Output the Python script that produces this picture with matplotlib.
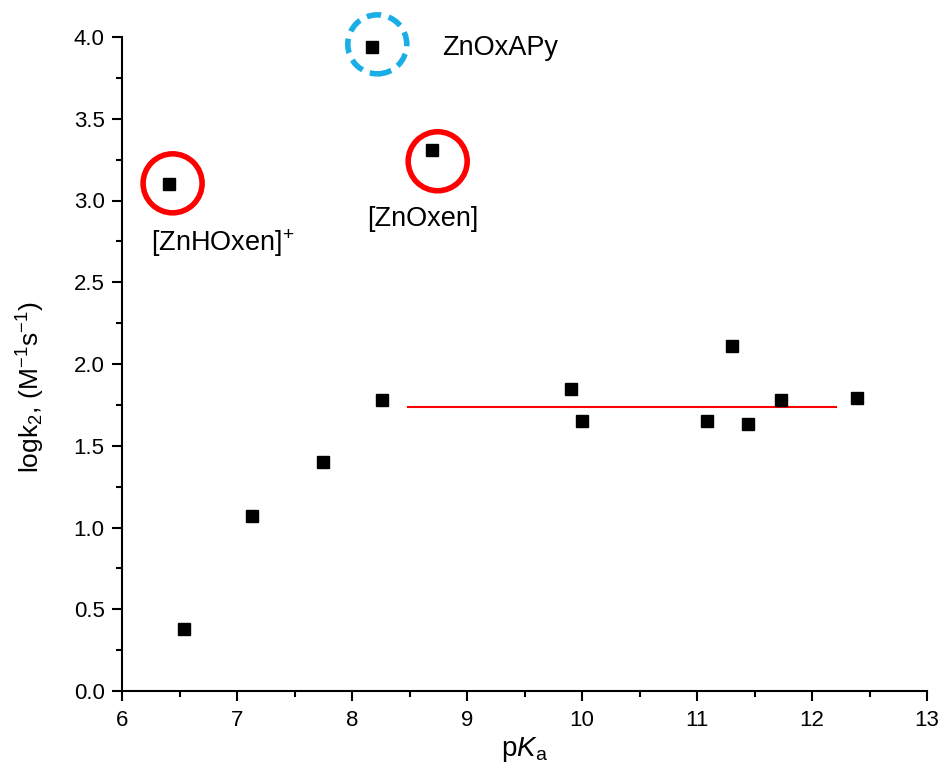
import matplotlib
matplotlib.use("Agg")
import matplotlib.pyplot as plt
from matplotlib.patches import Circle
from matplotlib.transforms import ScaledTranslation
from matplotlib.ticker import MultipleLocator, FormatStrFormatter

plt.rcParams['font.family'] = ['Liberation Sans', 'DejaVu Sans']
plt.rcParams['mathtext.fontset'] = 'custom'
plt.rcParams['mathtext.rm'] = 'Liberation Sans'
plt.rcParams['mathtext.it'] = 'Liberation Sans:italic'

# data
pka = [6.41, 6.54, 7.13, 7.75, 8.26, 8.17, 8.70, 9.90, 10.00, 11.09, 11.30, 11.44, 11.73, 12.39]
logk2 = [3.10, 0.38, 1.07, 1.40, 1.78, 3.94, 3.31, 1.85, 1.65, 1.65, 2.11, 1.63, 1.78, 1.79]

fit_x = [8.49, 12.21]
fit_y = [1.74, 1.74]

# highlighted compounds
hl_names = ['[ZnHOxen]$^{+}$', 'ZnOxAPy', '[ZnOxen]']
hl_x = [6.44, 8.22, 8.745]
hl_y = [3.105, 3.955, 3.24]
hl_colors = ['#FF0000', '#1AAEE6', '#FF0000']
hl_styles = ['solid', 'dashed', 'solid']
lab_x = [6.25, 8.78, 8.613]
lab_y = [2.69, 3.89, 2.844]
lab_ha = ['left', 'left', 'center']

fig = plt.figure(figsize=(9.41, 7.68), dpi=100)
ax = fig.add_axes([122/941, 1 - 691/768, (927 - 122)/941, (691 - 37)/768])

ax.plot(pka, logk2, linestyle='none', marker='s', markersize=8.7, color='black', zorder=3)
ax.plot(fit_x, fit_y, color='#FF0000', lw=1.5, zorder=2)

for x, y, c, s in zip(hl_x, hl_y, hl_colors, hl_styles):
    tr = fig.dpi_scale_trans + ScaledTranslation(x, y, ax.transData)
    ls = (0, (2.6, 1.4)) if s == 'dashed' else '-'
    circ = Circle((0, 0), 0.295, transform=tr, fill=False, edgecolor=c, lw=4.0,
                  linestyle=ls, zorder=4, clip_on=False)
    ax.add_patch(circ)

for name, x, y, ha in zip(hl_names, lab_x, lab_y, lab_ha):
    ax.text(x, y, name, ha=ha, va='baseline', fontsize=19.5)

ax.set_xlim(6, 13)
ax.set_ylim(0, 4)
ax.xaxis.set_major_locator(MultipleLocator(1))
ax.xaxis.set_minor_locator(MultipleLocator(0.5))
ax.yaxis.set_major_locator(MultipleLocator(0.5))
ax.yaxis.set_minor_locator(MultipleLocator(0.25))
ax.yaxis.set_major_formatter(FormatStrFormatter('%.1f'))

for side in ['top', 'right']:
    ax.spines[side].set_visible(False)
for side in ['left', 'bottom']:
    ax.spines[side].set_linewidth(1.5)
ax.tick_params(which='major', direction='out', length=7.5, width=1.5, labelsize=16)
ax.tick_params(axis='x', which='major', pad=6)
ax.tick_params(axis='y', which='major', pad=5)
ax.tick_params(which='minor', direction='out', length=4, width=1.5)

ax.set_xlabel('p$K$$_{\\mathrm{a}}$', fontsize=20)
ax.xaxis.label.set_va('baseline')
ax.xaxis.set_label_coords(0.5, (691 - 756) / 654)
ax.set_ylabel('logk$_{2}$, (M$^{\\mathrm{-1}}$s$^{\\mathrm{-1}}$)', fontsize=19)
ax.yaxis.label.set_va('center')
ax.yaxis.set_label_coords((31 - 122) / 805, (691 - 387) / 654)

fig.savefig('out.png', dpi=100)
